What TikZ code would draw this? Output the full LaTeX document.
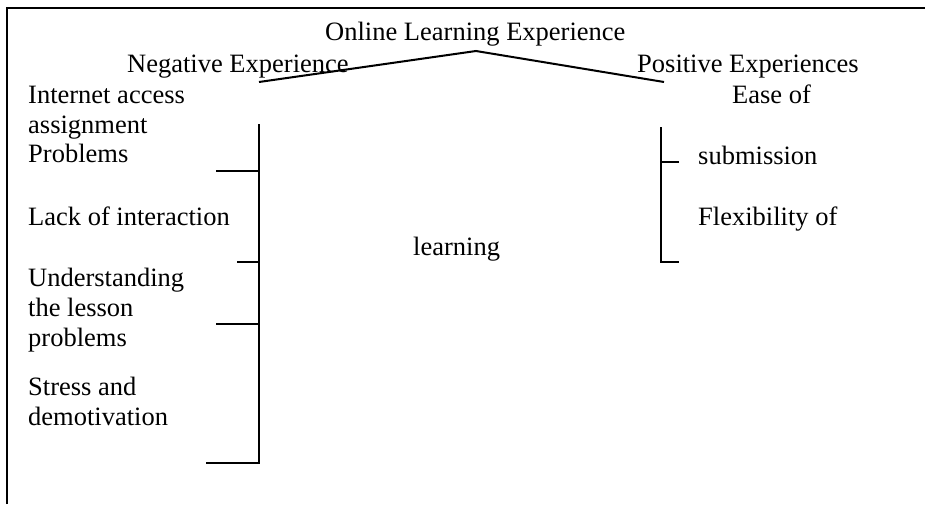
\documentclass[tikz,border=0pt]{standalone}
\usepackage{fontspec}
\setmainfont{Liberation Serif}

\begin{document}
\begin{tikzpicture}[x=1pt, y=-1pt,
                    every node/.style={inner sep=0pt, anchor=base west, font=\fontsize{26.5}{30}\selectfont},
                    edge_style/.style={draw=black, line width=2pt}]
                    \useasboundingbox (0,0) rectangle (925,504);
                    % frame
                    \draw[edge_style] (7,504) -- (7,8) -- (925,8);
                    % titles
                    \node (top) at (325,40) {Online Learning Experience};
                    \node (neg) at (127,72) {Negative Experience};
                    \node (pos) at (637,72) {Positive Experiences};
                    \coordinate (apex) at (476,51);
                    \coordinate (negend) at (259,82);
                    \coordinate (posend) at (664,82);
                    \draw[edge_style] (negend) -- (apex) -- (posend);
                    % negative side
                    \node (n1) at (28,103) {Internet access};
                    \node (n2) at (28,133) {assignment};
                    \node (n3) at (28,162) {Problems};
                    \node (n4) at (28,225) {Lack of interaction};
                    \node (n5) at (28,286) {Understanding};
                    \node (n6) at (28,316) {the lesson};
                    \node (n7) at (28,346) {problems};
                    \node (n8) at (28,395) {Stress and};
                    \node (n9) at (28,425) {demotivation};
                    \coordinate (nb) at (259,124);
                    \coordinate (nt1) at (216,171);
                    \coordinate (nt2) at (237,262);
                    \coordinate (nt3) at (216,324);
                    \coordinate (nt4) at (206,463);
                    \draw[edge_style] (nb) -- (nb |- nt4) -- (nt4);
                    \draw[edge_style] (nt1) -- (nb |- nt1);
                    \draw[edge_style] (nt2) -- (nb |- nt2);
                    \draw[edge_style] (nt3) -- (nb |- nt3);
                    % middle
                    \node (mid) at (413,255) {learning};
                    % positive side
                    \node (p1) at (732,103) {Ease of};
                    \node (p2) at (698,164) {submission};
                    \node (p3) at (698,225) {Flexibility of};
                    \coordinate (pb) at (661,127);
                    \coordinate (pt1) at (679,162);
                    \coordinate (pt2) at (679,262);
                    \draw[edge_style] (pb) -- (pb |- pt2) -- (pt2);
                    \draw[edge_style] (pt1) -- (pb |- pt1);
                \end{tikzpicture}
\end{document}
